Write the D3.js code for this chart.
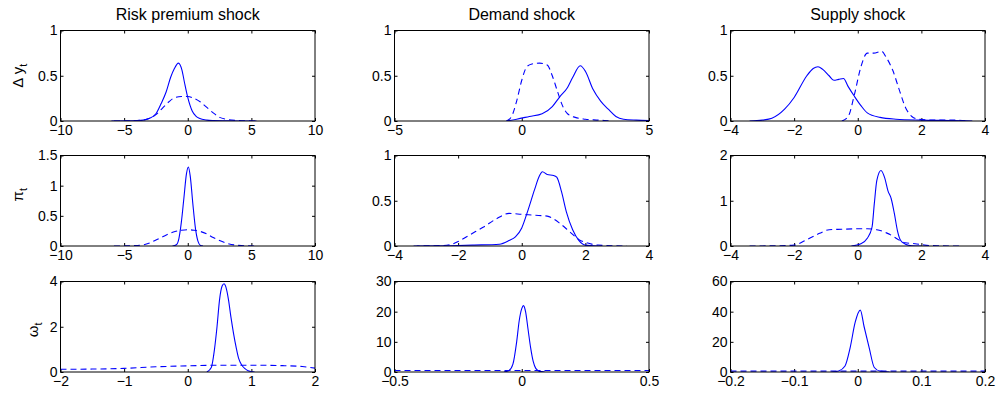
<!DOCTYPE html>
<html>
<head>
<meta charset="utf-8">
<script src="https://cdn.jsdelivr.net/npm/d3@7"></script>
<style>
  body { margin: 0; background: #fff; }
  text { font-family: "Liberation Sans", Arial, Helvetica, sans-serif; fill: #000; }
</style>
</head>
<body>
<div id="chart"></div>
<script>
// column titles and row labels (subscript t added when drawing)
var shocks = ["Risk premium shock", "Demand shock", "Supply shock"];
var rowLabels = ["\u0394 y", "\u03c0", "\u03c9"];

// tick values, one list per panel (row by row); domain = first..last tick
var xTicks = [
  [-10, -5, 0, 5, 10], [-5, 0, 5], [-4, -2, 0, 2, 4],
  [-10, -5, 0, 5, 10], [-4, -2, 0, 2, 4], [-4, -2, 0, 2, 4],
  [-2, -1, 0, 1, 2], [-0.5, 0, 0.5], [-0.2, -0.1, 0, 0.1, 0.2]
];
var yTicks = [
  [0, 0.5, 1], [0, 0.5, 1], [0, 0.5, 1],
  [0, 0.5, 1, 1.5], [0, 0.5, 1], [0, 1, 2],
  [0, 2, 4], [0, 10, 20, 30], [0, 20, 40, 60]
];

// ---- Δy_t ----
var dyRiskSolidX = [-6, -4, -3.5, -3, -2.5, -2.1, -1.7, -1.35, -1.05, -0.73, -0.45, -0.25, 0, 0.35, 0.6, 0.9, 1.5, 2, 3, 4, 5.4];
var dyRiskSolidY = [0, 0.005, 0.01, 0.03, 0.08, 0.19, 0.32, 0.48, 0.58, 0.64, 0.56, 0.42, 0.26, 0.11, 0.06, 0.03, 0.01, 0.005, 0.002, 0, 0];
var dyRiskDashX = [-5.8, -4.5, -3.5, -3, -2.5, -2, -1.5, -1, -0.5, 0, 0.5, 1, 1.5, 2, 2.5, 3, 4, 5.3];
var dyRiskDashY = [0, 0.003, 0.01, 0.03, 0.07, 0.14, 0.21, 0.26, 0.27, 0.27, 0.25, 0.21, 0.15, 0.09, 0.04, 0.02, 0.005, 0];

var dyDemSolidX = [-0.6, -0.2, 0.3, 0.8, 1.2, 1.5, 1.8, 2.0, 2.3, 2.5, 2.8, 3.1, 3.4, 3.7, 4.0, 4.5, 5.0];
var dyDemSolidY = [0, 0.02, 0.05, 0.08, 0.16, 0.27, 0.37, 0.48, 0.61, 0.55, 0.35, 0.22, 0.13, 0.05, 0.02, 0.01, 0.005];
var dyDemDashX = [-0.6, -0.4, -0.2, 0, 0.2, 0.4, 0.7, 1.0, 1.2, 1.4, 1.6, 1.8, 2.1, 2.5, 3.0, 3.5];
var dyDemDashY = [0, 0.05, 0.22, 0.45, 0.6, 0.63, 0.64, 0.62, 0.5, 0.33, 0.17, 0.08, 0.04, 0.02, 0.01, 0];

var dySupSolidX = [-3.4, -3, -2.7, -2.3, -2.0, -1.6, -1.4, -1.25, -1.1, -0.9, -0.75, -0.6, -0.45, -0.3, -0.1, 0.1, 0.3, 0.7, 1.2, 2, 3, 3.6];
var dySupSolidY = [0, 0.01, 0.03, 0.13, 0.26, 0.5, 0.58, 0.6, 0.57, 0.5, 0.45, 0.46, 0.47, 0.38, 0.27, 0.17, 0.09, 0.04, 0.02, 0.01, 0.005, 0];
var dySupDashX = [-0.5, -0.3, -0.1, 0.1, 0.3, 0.5, 0.75, 0.9, 1.1, 1.3, 1.5, 1.7, 1.9, 2.3, 3, 3.5];
var dySupDashY = [0, 0.05, 0.3, 0.6, 0.75, 0.75, 0.77, 0.7, 0.56, 0.35, 0.15, 0.05, 0.02, 0.01, 0.01, 0];

// ---- π_t ----
var piRiskSolidX = [-1.2, -0.9, -0.7, -0.5, -0.3, -0.1, 0.05, 0.2, 0.4, 0.6, 0.8, 1.0, 1.2];
var piRiskSolidY = [0, 0.02, 0.12, 0.4, 0.8, 1.2, 1.31, 1.15, 0.7, 0.3, 0.08, 0.01, 0];
var piRiskDashX = [-5.8, -4.5, -3.5, -3, -2.5, -2, -1.5, -1, -0.5, 0, 0.5, 1, 1.5, 2, 2.5, 3, 4, 5.3];
var piRiskDashY = [0, 0.005, 0.02, 0.05, 0.1, 0.15, 0.2, 0.24, 0.26, 0.27, 0.26, 0.24, 0.2, 0.14, 0.09, 0.05, 0.01, 0];

var piDemSolidX = [-3.3, -2, -1.5, -0.7, -0.4, -0.2, 0, 0.2, 0.4, 0.55, 0.65, 0.8, 1.0, 1.1, 1.25, 1.4, 1.6, 1.8, 2.0, 2.4];
var piDemSolidY = [0, 0.005, 0.01, 0.02, 0.06, 0.1, 0.2, 0.4, 0.62, 0.77, 0.82, 0.79, 0.78, 0.76, 0.6, 0.38, 0.18, 0.06, 0.01, 0];
var piDemDashX = [-3.4, -2.5, -2.2, -2.0, -1.6, -1.2, -0.8, -0.4, 0, 0.4, 0.8, 1.0, 1.2, 1.5, 1.8, 2.0, 2.4, 3.3];
var piDemDashY = [0, 0.005, 0.02, 0.05, 0.13, 0.21, 0.3, 0.36, 0.35, 0.34, 0.33, 0.3, 0.25, 0.16, 0.07, 0.04, 0.01, 0];

var piSupSolidX = [-0.2, 0.1, 0.3, 0.45, 0.52, 0.6, 0.73, 0.85, 0.95, 1.05, 1.15, 1.25, 1.35, 1.5, 1.7, 2.0];
var piSupSolidY = [0, 0.05, 0.17, 0.42, 0.93, 1.45, 1.67, 1.5, 1.22, 1.05, 0.72, 0.33, 0.12, 0.04, 0.005, 0];
var piSupDashX = [-3.4, -2.5, -2.0, -1.6, -1.2, -0.9, -0.5, 0, 0.3, 0.6, 0.9, 1.1, 1.3, 1.5, 1.8, 2.1, 2.5, 3.2];
var piSupDashY = [0, 0.005, 0.02, 0.14, 0.28, 0.36, 0.37, 0.38, 0.38, 0.36, 0.29, 0.22, 0.13, 0.07, 0.05, 0.02, 0.005, 0];

// ---- ω_t ----
var omRiskSolidX = [0.3, 0.37, 0.42, 0.46, 0.5, 0.54, 0.57, 0.6, 0.64, 0.68, 0.72, 0.76, 0.8, 0.85, 0.9, 0.95, 1.05];
var omRiskSolidY = [0, 0.2, 1.0, 2.0, 3.2, 3.8, 3.9, 3.75, 3.2, 2.4, 1.7, 1.1, 0.6, 0.3, 0.15, 0.06, 0];
var omRiskDashX = [-2, -1.5, -1, -0.5, 0, 0.5, 1, 1.5, 1.8, 2];
var omRiskDashY = [0.12, 0.13, 0.16, 0.23, 0.27, 0.3, 0.3, 0.28, 0.24, 0.17];

var omDemSolidX = [-0.07, -0.05, -0.035, -0.02, -0.01, 0, 0.007, 0.015, 0.025, 0.035, 0.045, 0.055, 0.07, 0.09];
var omDemSolidY = [0, 0.5, 2.5, 10, 17, 21, 22, 20, 14, 8, 3.5, 1.2, 0.2, 0];
var omDemDashX = [-0.5, -0.25, 0, 0.25, 0.5];
var omDemDashY = [0.5, 0.5, 0.5, 0.5, 0.5];

var omSupSolidX = [-0.04, -0.03, -0.02, -0.012, -0.004, 0.004, 0.01, 0.018, 0.026, 0.035, 0.05];
var omSupSolidY = [0, 0.7, 4, 16, 33, 41, 30, 16, 3, 0.6, 0];
var omSupDashX = [-0.2, -0.1, 0, 0.1, 0.2];
var omSupDashY = [0.6, 0.6, 0.6, 0.6, 0.6];

var solids = [
  [dyRiskSolidX, dyRiskSolidY], [dyDemSolidX, dyDemSolidY], [dySupSolidX, dySupSolidY],
  [piRiskSolidX, piRiskSolidY], [piDemSolidX, piDemSolidY], [piSupSolidX, piSupSolidY],
  [omRiskSolidX, omRiskSolidY], [omDemSolidX, omDemSolidY], [omSupSolidX, omSupSolidY]
];
var dashes = [
  [dyRiskDashX, dyRiskDashY], [dyDemDashX, dyDemDashY], [dySupDashX, dySupDashY],
  [piRiskDashX, piRiskDashY], [piDemDashX, piDemDashY], [piSupDashX, piSupDashY],
  [omRiskDashX, omRiskDashY], [omDemDashX, omDemDashY], [omSupDashX, omSupDashY]
];

// layout
var colLeft = [60, 394, 729.5],
  rowTop = [30, 155, 280.5],
  pw = 254.5, ph = 90.5;

var svg = d3.select("#chart")
  .append("svg")
  .attr("width", 998)
  .attr("height", 395);

function zip(xs, ys) {
  return xs.map(function (v, i) { return [v, ys[i]] })
}

for (var i = 0; i < 9; i++) {
  var row = Math.floor(i / 3), col = i % 3;
  var g = svg.append("g")
    .attr("transform", "translate(" + (Math.round(colLeft[col]) + 0.5) + "," + (Math.round(rowTop[row]) + 0.5) + ")");

  var x = d3.scaleLinear().domain(d3.extent(xTicks[i])).range([0, pw]);
  var y = d3.scaleLinear().domain(d3.extent(yTicks[i])).range([ph, 0]);

  // ticks pointing inwards on all four sides (matlab style)
  g.append("g").attr("transform", "translate(0," + ph + ")")
    .call(d3.axisBottom(x).tickValues(xTicks[i]).tickSize(-3).tickPadding(4).tickFormat(d3.format("")));
  g.append("g")
    .call(d3.axisTop(x).tickValues(xTicks[i]).tickSize(-3).tickFormat(""));
  g.append("g")
    .call(d3.axisLeft(y).tickValues(yTicks[i]).tickSize(-3).tickPadding(3).tickFormat(d3.format("")));
  g.append("g").attr("transform", "translate(" + pw + ",0)")
    .call(d3.axisRight(y).tickValues(yTicks[i]).tickSize(-3).tickFormat(""));

  g.selectAll(".domain").remove();
  g.selectAll(".tick line").attr("stroke", "#000");
  g.selectAll(".tick text").style("font-size", "14px").attr("fill", "#000");

  g.append("clipPath").attr("id", "clip" + i)
    .append("rect").attr("width", pw).attr("height", ph);

  var line = d3.line()
    .x(function (d) { return x(d[0]) })
    .y(function (d) { return y(d[1]) })
    .curve(d3.curveMonotoneX);

  g.append("path")
    .datum(zip(dashes[i][0], dashes[i][1]))
    .attr("clip-path", "url(#clip" + i + ")")
    .attr("fill", "none")
    .attr("stroke", "#0000ff")
    .attr("stroke-width", 1.1)
    .attr("stroke-dasharray", "6,4")
    .attr("d", line);

  g.append("path")
    .datum(zip(solids[i][0], solids[i][1]))
    .attr("clip-path", "url(#clip" + i + ")")
    .attr("fill", "none")
    .attr("stroke", "#0000ff")
    .attr("stroke-width", 1.1)
    .attr("d", line);

  // box
  g.append("rect")
    .attr("width", pw).attr("height", ph)
    .attr("fill", "none")
    .attr("stroke", "#000");

  if (row === 0) {
    g.append("text")
      .attr("x", pw / 2)
      .attr("y", -10.5)
      .attr("text-anchor", "middle")
      .style("font-size", "16px")
      .text(shocks[col]);
  }
  if (col === 0) {
    var lx = [-38, -38, -23][row], dyOff = [0, -6, 3][row];
    var lab = g.append("text")
      .attr("transform", "translate(" + lx + "," + (ph / 2 + dyOff) + ") rotate(-90)")
      .attr("text-anchor", "middle")
      .style("font-size", "15px");
    lab.append("tspan").text(rowLabels[row]);
    lab.append("tspan").attr("dy", 4).style("font-size", "11px").text("t");
  }
}
</script>
</body>
</html>
